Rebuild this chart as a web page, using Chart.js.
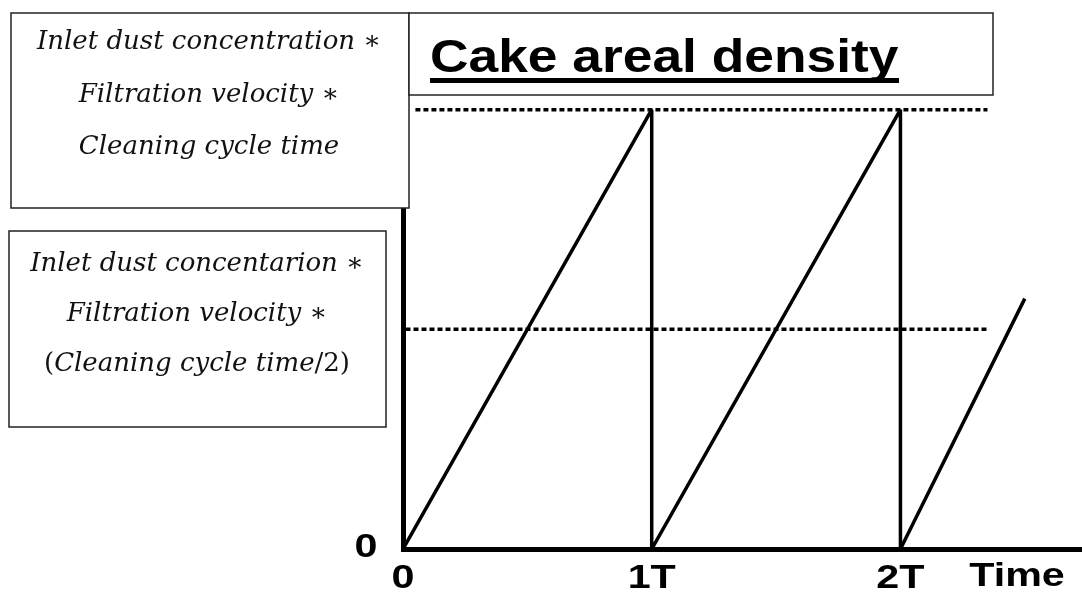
<!DOCTYPE html>
<html>
<head>
<meta charset="utf-8">
<script src="https://cdn.jsdelivr.net/npm/chart.js@4"></script>
<style>
  html, body { margin: 0; padding: 0; background: #fff; }
  #wrap { width: 1082px; height: 601px; }
</style>
</head>
<body>
<div id="wrap"><canvas id="cake" width="1082" height="601"></canvas></div>
<script>
// ----------- Data -----------
const sawTime = [0, 1, 1, 2, 2, 2.5];
const sawDensity = [0, 1, 0, 1, 0, 0.57];

const refLevels = [1, 0.5];
const refStart = [0.05, 0.01];
const refEnd = [2.35, 2.35];

const xTickValues = [0, 1, 2];
const xTickLabels = ["0", "1T", "2T"];
const yTickValues = [0];
const yTickLabels = ["0"];
const xAxisTitle = "Time";
const chartTitle = "Cake areal density";

// each line is a list of [text, italic?] pieces
const fullLabel = [
    [["Inlet dust concentration ", true], ["\u2217", false]],
    [["Filtration velocity ", true], ["\u2217", false]],
    [["Cleaning cycle time", true]]
];
const halfLabel = [
    [["Inlet dust concentarion ", true], ["\u2217", false]],
    [["Filtration velocity ", true], ["\u2217", false]],
    [["(", false], ["Cleaning cycle time", true], ["/2)", false]]
];

// ----------- Helpers -----------
function stretchText(ctx, text, x, y, font, sx) {
    ctx.save();
    ctx.font = font;
    ctx.translate(x, y);
    ctx.scale(sx, 1);
    ctx.fillText(text, 0, 0);
    ctx.restore();
}

function drawBox(ctx, x0, y0, x1, y1) {
    ctx.save();
    ctx.fillStyle = "#fff";
    ctx.fillRect(x0, y0, x1 - x0, y1 - y0);
    ctx.strokeStyle = "#222";
    ctx.lineWidth = 1.5;
    ctx.strokeRect(x0, y0, x1 - x0, y1 - y0);
    ctx.restore();
}

const itFont = "italic 26px 'DejaVu Serif'";
const upFont = "26px 'DejaVu Serif'";

function drawLines(ctx, lines, cx, ys) {
    ctx.save();
    ctx.fillStyle = "#111";
    ctx.textAlign = "left";
    ctx.textBaseline = "middle";
    lines.forEach((parts, i) => {
        let total = 0;
        parts.forEach(p => { ctx.font = p[1] ? itFont : upFont; total += ctx.measureText(p[0]).width; });
        let x = cx - total / 2;
        parts.forEach(p => {
            ctx.font = p[1] ? itFont : upFont;
            ctx.fillText(p[0], x, ys[i]);
            x += ctx.measureText(p[0]).width;
        });
    });
    ctx.restore();
}

// ----------- Labels + boxes plugin -----------
const overlay = {
    id: "overlay",
    afterDraw(chart) {
        const ctx = chart.ctx;
        const xs = chart.scales.x, ys = chart.scales.y;
        const area = chart.chartArea;

        // tick labels
        ctx.save();
        ctx.fillStyle = "#000";
        ctx.textAlign = "center";
        ctx.textBaseline = "middle";
        const tickFont = "bold 33px 'Liberation Sans'";
        xTickValues.forEach((v, i) => {
            stretchText(ctx, xTickLabels[i], xs.getPixelForValue(v), area.bottom + 30, tickFont, 1.25);
        });
        yTickValues.forEach((v, i) => {
            stretchText(ctx, yTickLabels[i], area.left - 37, ys.getPixelForValue(v) - 1, tickFont, 1.25);
        });
        stretchText(ctx, xAxisTitle, area.right - 65, area.bottom + 28, tickFont, 1.25);
        ctx.restore();

        // formula boxes
        drawBox(ctx, 11, 13, 409, 208);
        drawLines(ctx, fullLabel, 209, [42, 95, 147]);
        drawBox(ctx, 9, 231, 386, 427);
        drawLines(ctx, halfLabel, 197, [264, 314, 364]);

        // title box
        drawBox(ctx, 409, 13, 993, 95);
        ctx.save();
        ctx.fillStyle = "#000";
        ctx.textAlign = "left";
        ctx.textBaseline = "alphabetic";
        stretchText(ctx, chartTitle, 430, 72, "bold 47px 'Liberation Sans'", 1.135);
        ctx.fillRect(430, 78, 469, 5);
        ctx.restore();
    }
};

// ----------- Chart -----------
const refSets = refLevels.map((lv, i) => ({
    data: [{x: refStart[i], y: lv}, {x: refEnd[i], y: lv}],
    showLine: true,
    borderColor: "#000",
    borderWidth: 3.5,
    borderDash: [5, 3],
    pointRadius: 0
}));

new Chart(document.getElementById("cake"), {
    type: "scatter",
    data: {
        datasets: [{
            data: sawTime.map((t, i) => ({x: t, y: sawDensity[i]})),
            showLine: true,
            borderColor: "#000",
            borderWidth: 3.5,
            borderJoinStyle: "bevel",
            pointRadius: 0,
            tension: 0
        }].concat(refSets)
    },
    options: {
        responsive: false,
        animation: false,
        layout: { padding: { left: 403, top: 57, right: 0, bottom: 52 } },
        plugins: { legend: { display: false }, tooltip: { enabled: false } },
        scales: {
            x: {
                type: "linear", min: 0, max: 2.73,
                grid: { display: false, drawTicks: false },
                ticks: { display: false },
                border: { display: true, color: "#000", width: 5 }
            },
            y: {
                type: "linear", min: 0, max: 1.12,
                grid: { display: false, drawTicks: false },
                ticks: { display: false },
                border: { display: true, color: "#000", width: 5 }
            }
        }
    },
    plugins: [overlay]
});
</script>
</body>
</html>
